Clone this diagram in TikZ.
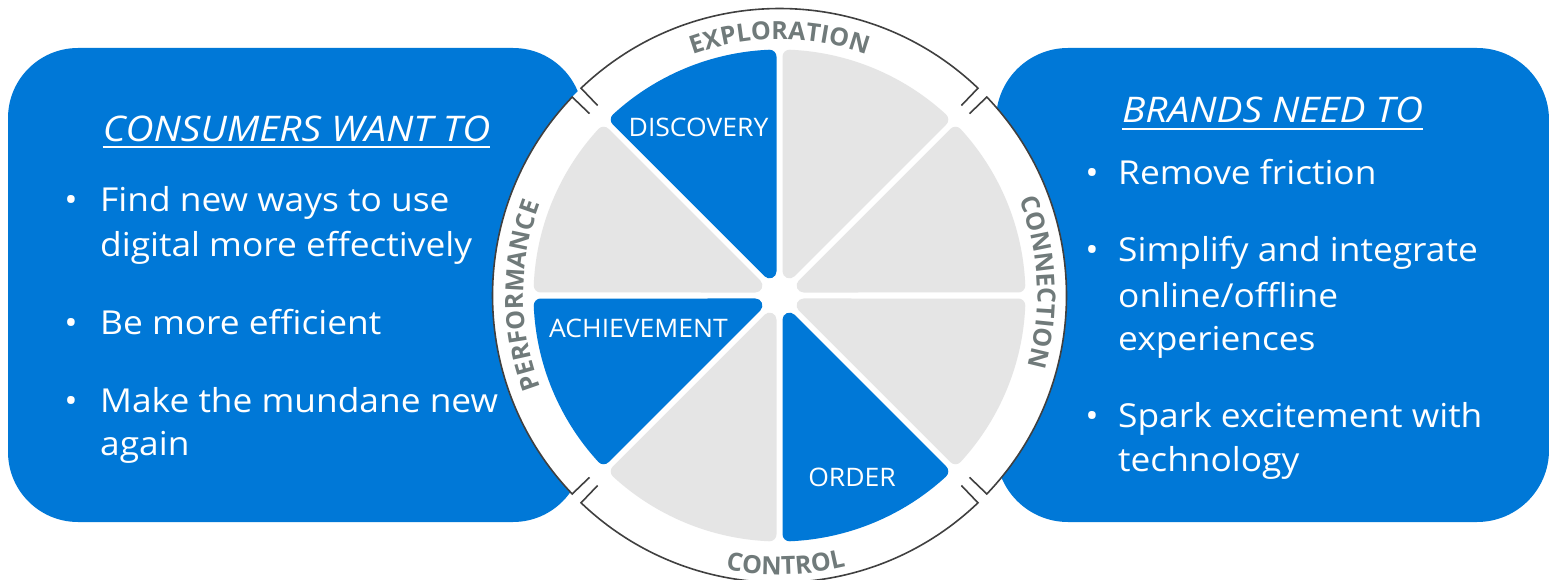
\documentclass[tikz,border=0pt]{standalone}
\usepackage{fontspec}
\setmainfont{Open Sans}
\newfontfamily\bodyfont{Open Sans}[FakeStretch=1.07]
\newfontfamily\headfont{Open Sans}[FakeStretch=1.1]
\newfontfamily\segfont{Open Sans}[FakeStretch=1.04]
\usetikzlibrary{calc,decorations.text}
\definecolor{msblue}{RGB}{0,120,215}
\definecolor{pgray}{RGB}{229,229,229}
\definecolor{ringline}{RGB}{64,64,64}
\definecolor{ringtxt}{RGB}{112,122,122}
\newcommand\ringfont{\fontsize{25}{25}\selectfont\bfseries\color{ringtxt}}
\begin{document}
\begin{tikzpicture}[x=1pt,y=1pt,
  box/.style={fill=msblue, rounded corners=70pt},
  slice/.style={line width=14pt, line join=round},
  seglabel/.style={text=white, font=\segfont\fontsize{25.5}{25.5}\selectfont, inner sep=0},
  body/.style={text=white, font=\bodyfont\fontsize{33}{33}\selectfont, anchor=base west, inner sep=0},
  bul/.style={text=white, font=\bodyfont\fontsize{33}{33}\selectfont, anchor=base, inner sep=0},
  head/.style={text=white, font=\headfont\fontsize{35.3}{35.3}\selectfont\itshape, anchor=base, inner sep=0},
  uline/.style={draw=white, line width=1.6pt},
  ringarc/.style={draw=ringline, line width=1.6pt}]

\useasboundingbox (0,0) rectangle (1549,579);
\fill[white] (0,0) rectangle (1549,579);
\coordinate (C) at (779.5,283.5);

% side boxes
\fill[box] (8,57) rectangle (583,531);
\fill[box, rounded corners=72pt] (996,57) rectangle (1549,531);

% white disc
\fill[white] (C) circle[radius=287pt];

% bracket arcs
\foreach \m in {0,90,180,270} {
  \draw[ringarc] ($(C)+(\m+43.75:263pt)$) -- ($(C)+(\m+43.75:287pt)$)
     arc[start angle=\m+43.75, end angle=\m-43.75, radius=287pt]
     -- ($(C)+(\m-43.75:263pt)$);
}

% pie slices
\foreach \a/\c in {0/pgray,45/pgray,90/msblue,135/pgray,180/msblue,225/pgray,270/msblue,315/pgray}{
  \filldraw[slice, fill=\c, draw=\c] ($(C)+(\a+22.5:26.13pt)$) -- ($(C)+(\a+2.4:239pt)$)
     arc[start angle=\a+2.4, end angle=\a+42.6, radius=239pt] -- cycle;
}

% slice labels
\node[seglabel] (disc) at (698.5,452) {DISCOVERY};
\node[seglabel] (ach) at (638.5,251) {ACHIEVEMENT};
\node[seglabel] (ord) at (852,102) {ORDER};

% ring labels
\path[decorate, decoration={text along path, text align=center, text={|\ringfont|EXPLORATION}}]
  ($(C)+(135:256pt)$) arc[start angle=135, end angle=45, radius=256pt];
\path[decorate, decoration={text along path, text align=center, text={|\ringfont|CONNECTION}}]
  ($(C)+(48:258pt)$) arc[start angle=48, end angle=-42, radius=258pt];
\path[decorate, decoration={text along path, text align=center, text={|\ringfont|PERFORMANCE}}]
  ($(C)+(225:256pt)$) arc[start angle=225, end angle=135, radius=256pt];
\path[decorate, decoration={text along path, text align=center, text={|\ringfont|CONTROL}}]
  ($(C)+(226.3:279pt)$) arc[start angle=226.3, end angle=316.3, radius=279pt];

% left box text
\node[head] (hl) at (296.5,437) {CONSUMERS WANT TO};
\draw[uline] ($(hl.base west)+(0,-5)$) -- ($(hl.base east)+(0,-5)$);
\node[bul] (lb1) at (71,367) {•};
\node[body] (l1) at (100,367) {Find new ways to use};
\node[body] (l2) at (100,322) {digital more effectively};
\node[bul] (lb2) at (71,245) {•};
\node[body] (l3) at (100,245) {Be more efficient};
\node[bul] (lb3) at (71,167) {•};
\node[body] (l4) at (100,167) {Make the mundane new};
\node[body] (l5) at (100,124) {again};

% right box text
\node[head] (hr) at (1272.5,456) {BRANDS NEED TO};
\draw[uline] ($(hr.base west)+(0,-6)$) -- ($(hr.base east)+(0,-6)$);
\node[bul] (rb1) at (1092,394) {•};
\node[body] (r1) at (1118,394) {Remove friction};
\node[bul] (rb2) at (1092,317) {•};
\node[body] (r2) at (1118,317) {Simplify and integrate};
\node[body] (r3) at (1118,272) {online/offline};
\node[body] (r4) at (1118,229) {experiences};
\node[bul] (rb3) at (1092,152) {•};
\node[body] (r5) at (1118,152) {Spark excitement with};
\node[body] (r6) at (1118,108) {technology};
\end{tikzpicture}
\end{document}
